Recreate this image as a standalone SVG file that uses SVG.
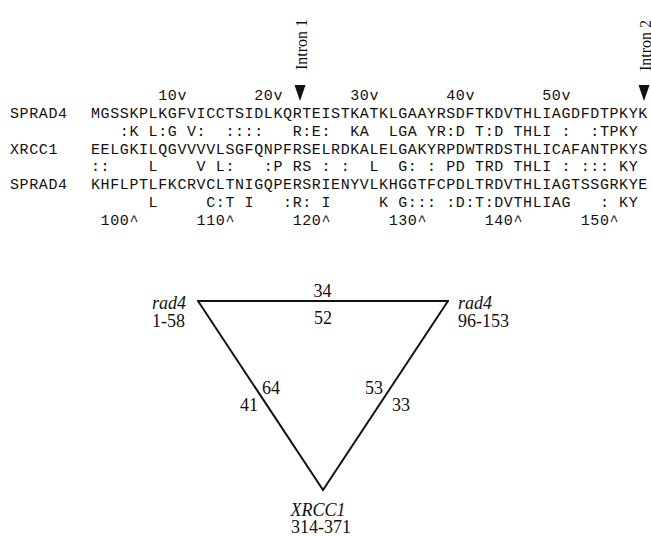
<svg xmlns="http://www.w3.org/2000/svg" width="651" height="536" viewBox="0 0 651 536">
<style>
.mono{font-family:"Liberation Mono","DejaVu Sans Mono",monospace;font-size:15px;letter-spacing:0.6px;fill:#111;white-space:pre}
.serif{font-family:"Liberation Serif","Times New Roman",serif;font-size:18px;fill:#111}
.it{font-style:italic}
.intron{font-family:"Liberation Serif","Times New Roman",serif;font-size:16px;fill:#111}
.edge{stroke:#111;stroke-width:2;fill:none;stroke-linecap:round}
</style>
<rect width="651" height="536" fill="#fff"/>
<g id="alignment" xml:space="preserve">
<text class="mono" x="91" y="100">       10v       20v       30v       40v       50v</text>
<text class="mono" x="10" y="117.9">SPRAD4</text>
<text class="mono" x="91" y="117.9">MGSSKPLKGFVICCTSIDLKQRTEISTKATKLGAAYRSDFTKDVTHLIAGDFDTPKYK</text>
<text class="mono" x="91" y="135.7">   :K L:G V:  ::::   R:E:  KA  LGA YR:D T:D THLI :  :TPKY</text>
<text class="mono" x="10" y="153.6">XRCC1</text>
<text class="mono" x="91" y="153.6">EELGKILQGVVVVLSGFQNPFRSELRDKALELGAKYRPDWTRDSTHLICAFANTPKYS</text>
<text class="mono" x="91" y="171.4">::    L    V L:   :P RS : :  L  G: : PD TRD THLI : ::: KY</text>
<text class="mono" x="10" y="189.3">SPRAD4</text>
<text class="mono" x="91" y="189.3">KHFLPTLFKCRVCLTNIGQPERSRIENYVLKHGGTFCPDLTRDVTHLIAGTSSGRKYE</text>
<text class="mono" x="91" y="207.1">      L     C:T I   :R: I     K G::: :D:T:DVTHLIAG   : KY</text>
<text class="mono" x="91" y="225"> 100^      110^      120^      130^      140^      150^</text>
</g>
<g id="intron1">
<text class="intron" transform="translate(307,70) rotate(-90)">Intron 1</text>
<polygon points="294.5,85 305.5,85 300,101" fill="#111"/>
</g>
<g id="intron2">
<text class="intron" transform="translate(651,71) rotate(-90)">Intron 2</text>
<polygon points="638.5,85 649.5,85 644,101" fill="#111"/>
</g>
<g id="connectors">
<line class="edge" x1="198" y1="301" x2="448" y2="301"/>
<line class="edge" x1="198" y1="301" x2="323" y2="490"/>
<line class="edge" x1="448" y1="301" x2="323" y2="490"/>
<text class="serif" x="322.5" y="297" text-anchor="middle">34</text>
<text class="serif" x="323" y="323.5" text-anchor="middle">52</text>
<text class="serif" x="262" y="394">64</text>
<text class="serif" x="240" y="410.5">41</text>
<text class="serif" x="365" y="394">53</text>
<text class="serif" x="392" y="411">33</text>
</g>
<g id="node-rad4-1-58">
<text class="serif it" x="152" y="309">rad4</text>
<text class="serif" x="152" y="327">1-58</text>
</g>
<g id="node-rad4-96-153">
<text class="serif it" x="458" y="309">rad4</text>
<text class="serif" x="458" y="327">96-153</text>
</g>
<g id="node-xrcc1">
<text class="serif it" x="318" y="516" text-anchor="middle">XRCC1</text>
<text class="serif" x="321" y="533" text-anchor="middle">314-371</text>
</g>
</svg>
